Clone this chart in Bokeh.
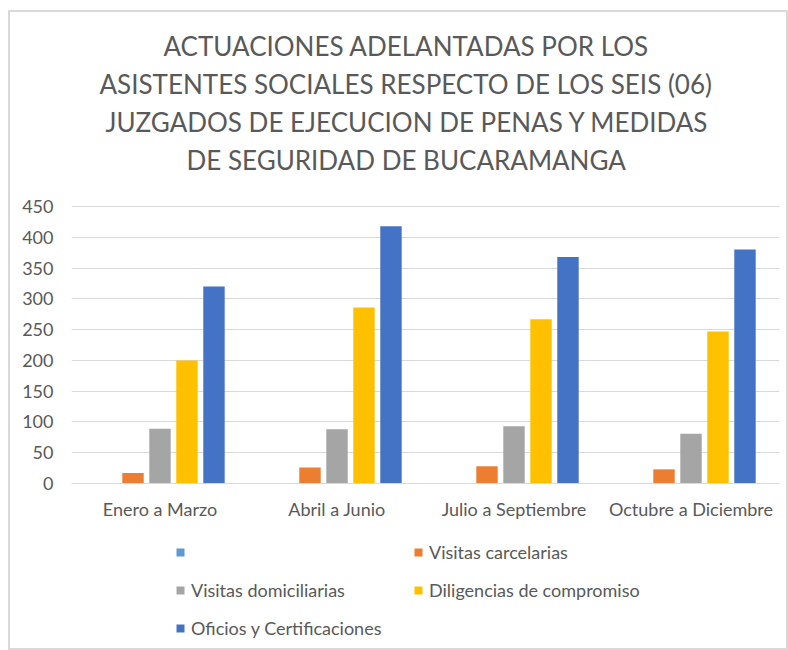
from bokeh.plotting import figure
from bokeh.models import (FactorRange, ColumnDataSource, Legend, LegendItem, Title, FixedTicker)
from bokeh.transform import dodge
from bokeh.embed import file_html
from bokeh.resources import INLINE

categories = ["Enero a Marzo", "Abril a Junio", "Julio a Septiembre", "Octubre a Diciembre"]
series_names = ["", "Visitas carcelarias", "Visitas domiciliarias", "Diligencias de compromiso", "Oficios y Certificaciones"]
serie_vacia = [0, 0, 0, 0]
visitas_carcelarias = [17, 26, 28, 23]
visitas_domiciliarias = [89, 88, 93, 81]
diligencias_compromiso = [200, 286, 267, 247]
oficios_certificaciones = [320, 418, 368, 380]
y_ticks = [0, 50, 100, 150, 200, 250, 300, 350, 400, 450]
title_lines = [
    "ACTUACIONES ADELANTADAS POR LOS",
    "ASISTENTES SOCIALES RESPECTO DE LOS SEIS (06)",
    "JUZGADOS DE EJECUCION DE PENAS Y MEDIDAS",
    "DE SEGURIDAD DE BUCARAMANGA",
]

colors = ["#5b9bd5", "#ed7d31", "#a5a5a5", "#ffc000", "#4472c4"]
keys = ["s0", "s1", "s2", "s3", "s4"]
values = [serie_vacia, visitas_carcelarias, visitas_domiciliarias, diligencias_compromiso, oficios_certificaciones]

data = {"cat": categories}
for k, v in zip(keys, values):
    data[k] = v
source = ColumnDataSource(data)

TXT = "#595959"
FONT = "Lato"

# layout in pixels: the 0..450 axis spans 277 px; empty space above it and
# the legend below it are part of the plot frame
W, H = 780, 640
LEFT, RIGHT = 61, 11
FRAME_TOP = 165          # top of the frame
AXIS_TOP_PX = 194        # where 450 lies
AXIS_ZERO_PX = 471       # where 0 lies
Y_MAX = 450
px_per_unit = (AXIS_ZERO_PX - AXIS_TOP_PX) / Y_MAX
y_end = Y_MAX + (AXIS_TOP_PX - FRAME_TOP) / px_per_unit
y_start = -(H - AXIS_ZERO_PX) / px_per_unit

p = figure(x_range=FactorRange(*categories, range_padding=0), y_range=(y_start, y_end),
           width=W, height=H, output_backend="svg", toolbar_location=None,
           min_border_left=LEFT, min_border_right=RIGHT, min_border_top=FRAME_TOP,
           min_border_bottom=0)

stride = 0.1525
bw = 0.121
renderers = []
for i, (k, c) in enumerate(zip(keys, colors)):
    r = p.vbar(x=dodge("cat", (i - 2) * stride, range=p.x_range), top=k, width=bw,
               source=source, fill_color=c, line_color=None)
    renderers.append(r)

# title lines, added from nearest to the plot outward; centred on the chart (x≈405)
title_offsets = [92, 28, 34, 115]
for line, off in reversed(list(zip(title_lines, title_offsets))):
    t = Title(text=line, align="left", offset=off, text_font=FONT, text_font_size="26px",
              text_color=TXT, text_font_style="normal", standoff=4)
    p.add_layout(t, "above")

p.yaxis.ticker = FixedTicker(ticks=y_ticks)
p.yaxis.axis_line_color = None
p.yaxis.major_tick_line_color = None
p.yaxis.minor_tick_line_color = None
p.yaxis.major_tick_out = 0
p.yaxis.major_tick_in = 0
p.yaxis.major_label_text_font = FONT
p.yaxis.major_label_text_font_size = "18px"
p.yaxis.major_label_text_color = TXT
p.yaxis.major_label_standoff = 18

xax = p.below[0]
xax.fixed_location = 0
xax.axis_line_color = "#d9d9d9"
xax.major_tick_line_color = None
xax.minor_tick_line_color = None
xax.major_tick_out = 0
xax.major_tick_in = 0
xax.major_label_text_font = FONT
xax.major_label_text_font_size = "18px"
xax.major_label_text_color = TXT
xax.major_label_standoff = 14

p.xgrid.grid_line_color = None
p.ygrid.grid_line_color = "#d9d9d9"
p.outline_line_color = None

items = [LegendItem(label=n, renderers=[r]) for n, r in zip(series_names, renderers)]
legend = Legend(items=items, ncols=2, location=(104, 13), orientation="horizontal",
                label_text_font=FONT, label_text_font_size="18px", label_text_color=TXT,
                glyph_width=10, glyph_height=10, label_height=20, label_width=206, spacing=16,
                label_standoff=6, border_line_color=None, background_fill_alpha=0,
                padding=0, margin=0)
p.add_layout(legend, "center")

p.styles = {"border": "2px solid #d9d9d9", "margin-left": "8px", "margin-top": "10px"}

open("out.html", "w").write(file_html(p, INLINE))
